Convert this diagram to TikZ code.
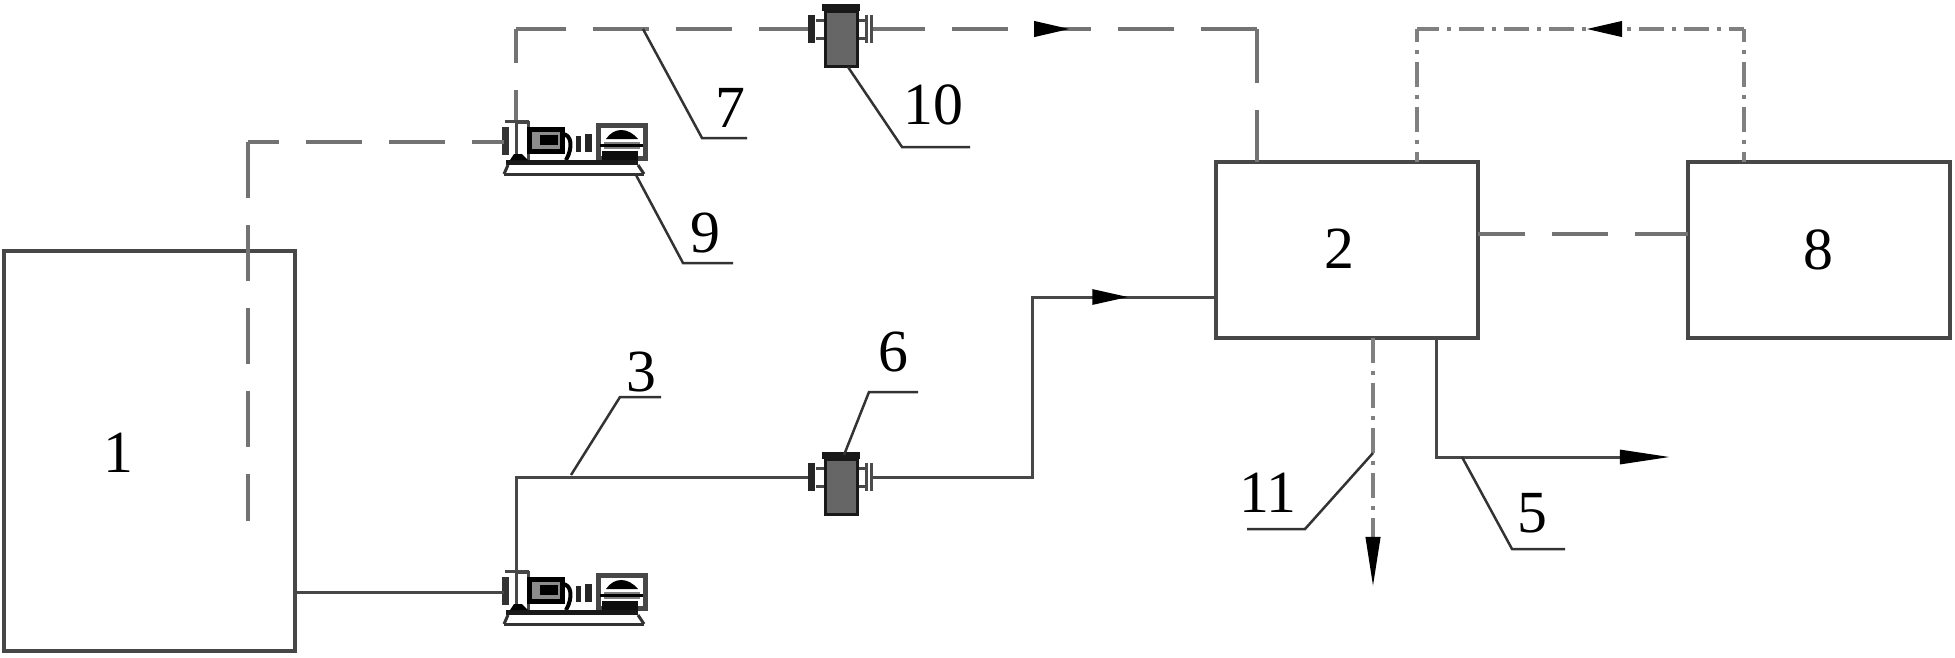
\documentclass[tikz,border=0pt]{standalone}
\usepackage{fontspec}
\setmainfont{Liberation Serif}
\usetikzlibrary{arrows.meta,decorations.markings}

\tikzset{
    flowhead/.tip={Triangle[length=0.5cm,width=0.14cm]},
    flowstub/.tip={Triangle[length=0.36cm,width=0.15cm]},
    pipe/.style={line width=0.03cm, color=black!72},
    dashpipe/.style={line width=0.04cm, color=black!55, dash pattern=on 0.56cm off 0.27cm},
    dotpipe/.style={line width=0.04cm, color=black!50, dash pattern=on 0.25cm off 0.08cm on 0.04cm off 0.08cm},
    leader/.style={line width=0.025cm, color=black!80},
    unitbox/.style={draw=black!72, line width=0.04cm, minimum width=2.62cm, minimum height=1.76cm, inner sep=0pt, outer sep=0pt},
    numlabel/.style={font=\fontsize{17}{17}\selectfont, text=black, inner sep=0pt},
    flowmark/.style 2 args={postaction={decorate}, decoration={markings, mark=at position #1 with {#2}}},
    pumpsym/.pic={
        \coordinate (-in) at (-12,0);
        \coordinate (-out) at (0,-22);
        \coordinate (-foot) at (120,33);
        \fill[black!80] (-14,-15) rectangle (-7,13);
        \draw[pipe] (-11,-21) -- (13,-21);
        \draw[pipe] (0,-20) rectangle (12,20);
        \draw[line width=0.05cm, fill=black!45] (13,-13) rectangle (46,9);
        \fill[black] (24,-7) rectangle (42,3);
        \draw[line width=0.04cm] (46,-8) .. controls (56,-8) and (57,6) .. (50,18);
        \fill[black!85] (60,-6) rectangle (65,10);
        \fill[black!85] (69,-8) rectangle (76,10);
        \draw[pipe, line width=0.05cm] (82,-17) rectangle (129,16);
        \fill[black] (90,-3) .. controls (98,-15) and (112,-15) .. (122,-3) -- cycle;
        \fill[black!50] (88,0) rectangle (124,7);
        \draw[line width=0.03cm] (84,3) -- (127,3);
        \fill[black!95] (86,9) rectangle (122,22);
        \fill[black!90] (-10,18) rectangle (122,23);
        \fill[black] (-6,18) -- (-2,12) -- (6,12) -- (12,18) -- cycle;
        \draw[line width=0.03cm, color=black!80] (-12,32) -- (128,32);
        \draw[line width=0.03cm, color=black!80] (-8,23) -- (-12,32);
        \draw[line width=0.03cm, color=black!80] (122,23) -- (128,32);
    },
    valvesym/.pic={
        \coordinate (-in) at (-33,0);
        \coordinate (-out) at (32,0);
        \coordinate (-foot) at (7,38);
        \draw[pipe] (-25,-9) -- (-16,-9);
        \draw[pipe] (-25,9) -- (-16,9);
        \draw[pipe] (16,-9) -- (24,-9);
        \draw[pipe] (16,9) -- (24,9);
        \fill[black!85] (-33,-14) rectangle (-26,14);
        \fill[black!70] (24,-14) rectangle (27,14);
        \fill[black!70] (29,-14) rectangle (32,14);
        \draw[black!90, line width=0.03cm, fill=black!60] (-16,-18) rectangle (16,37);
        \fill[black!90] (-19,-25) rectangle (19,-18);
    }
}

\begin{document}
\begin{tikzpicture}[x=0.01cm,y=-0.01cm]
    \useasboundingbox (0,0) rectangle (1955,657);

    \node[unitbox, minimum width=2.91cm, minimum height=4cm] (tank) at (149.5,451) {};
    \node[unitbox] (mixer) at (1347,250) {};
    \node[unitbox] (dryer) at (1819,250) {};

    \pic (pumpfeed) at (516,592) {pumpsym};
    \pic (pumpback) at (516,142) {pumpsym};
    \pic (valvefeed) at (841,477) {valvesym};
    \pic (valveback) at (841,29) {valvesym};

    \coordinate (dipend) at (248,521);
    \coordinate (dipbend) at (248,142);
    \coordinate (backbend) at (516,29);
    \coordinate (backdrop) at (1257,29);
    \coordinate (feedbendA) at (1032,477);
    \coordinate (feedbendB) at (1032,297);
    \coordinate (loopA) at (1417,29);
    \coordinate (loopB) at (1744,29);
    \coordinate (drainend) at (1373,587);
    \coordinate (outbend) at (1436,457);
    \coordinate (outend) at (1670,457);

    % solid lines
    \draw[pipe] (pumpfeed-in) -- (pumpfeed-in -| tank.east);
    \draw[pipe] (pumpfeed-out) |- (valvefeed-in);
    \draw[pipe, flowmark={4.35cm}{\arrow[black]{flowstub}}] (valvefeed-out) -- (feedbendA) -- (feedbendB) -- (feedbendB -| mixer.west);
    \draw[pipe, -{flowhead[black]}] (outbend |- mixer.south) -- (outbend) -- (outend);

    % long dashes
    \draw[dashpipe, dash phase=0.24cm] (pumpback-in) -- (dipbend);
    \draw[dashpipe] (dipbend) -- (dipend);
    \draw[dashpipe, dash phase=0.26cm] (pumpback-out) -- (backbend);
    \draw[dashpipe, dash phase=0.06cm] (backbend) -- (valveback-in);
    \draw[dashpipe, dash phase=0.04cm, flowmark={1.97cm}{\arrow[black]{flowstub}}] (valveback-out) -- (backdrop);
    \draw[dashpipe, dash phase=0.02cm] (backdrop) -- (backdrop |- mixer.north);
    \draw[dashpipe, dash phase=0.09cm] (mixer.east |- 0,234) -- (dryer.west |- 0,234);

    % dash and dot
    \draw[dotpipe, dash phase=0.12cm] (loopA) -- (loopA |- mixer.north);
    \draw[dotpipe, dash phase=0.12cm] (loopB) -- (loopB |- dryer.north);
    \draw[dotpipe, dash phase=0.03cm, flowmark={1.69cm}{\arrowreversed[black]{flowstub}}] (loopA) -- (loopB);
    \draw[dotpipe, -{flowhead[black]}] (drainend |- mixer.south) -- (drainend);

    % numbers
    \node[numlabel] (numtank) at (118,453) {1};
    \node[numlabel] (nummixer) at (1339,249) {2};
    \node[numlabel] (numfeed) at (641,372) {3};
    \node[numlabel] (numout) at (1532,513) {5};
    \node[numlabel] (numvalve) at (893,352) {6};
    \node[numlabel] (numback) at (730,108) {7};
    \node[numlabel] (numdryer) at (1818,250) {8};
    \node[numlabel] (numpump) at (705,233) {9};
    \node[numlabel] (numvalveback) at (933,105) {10};
    \node[numlabel] (numdrain) at (1268,493) {11};

    % leaders
    \coordinate (lineback) at (643,29);
    \coordinate (linefeed) at (571,475);
    \coordinate (linedrain) at (1373,453);
    \coordinate (lineout) at (1462,457);
    \draw[leader] (lineback) -- (702,138) -- (747,138);
    \draw[leader] (valveback-foot) -- (902,147) -- (970,147);
    \draw[leader] (pumpback-foot) -- (683,263) -- (733,263);
    \draw[leader] (linefeed) -- (620,397) -- (661,397);
    \draw[leader] (valvefeed-out |- 0,455) ++(-29,0) -- (869,392) -- (918,392);
    \draw[leader] (linedrain) -- (1305,529) -- (1247,529);
    \draw[leader] (lineout) -- (1512,549) -- (1565,549);
\end{tikzpicture}
\end{document}
